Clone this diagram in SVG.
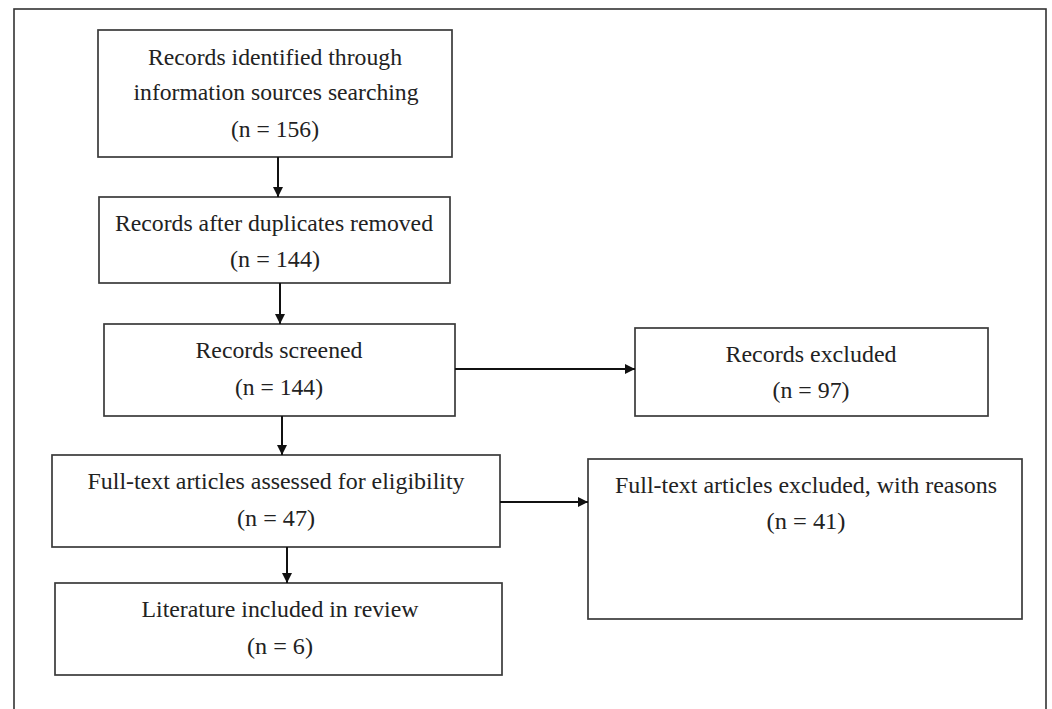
<svg xmlns="http://www.w3.org/2000/svg" width="1052" height="709" viewBox="0 0 1052 709">
<style>
.box{fill:#fff;stroke:#3a3a3a;stroke-width:1.7}
.t{font-family:"Liberation Serif","Times New Roman",serif;font-size:23px;fill:#222;text-anchor:middle}
.c{fill:none;stroke:#111;stroke-width:2}
</style>
<defs>
<marker id="ah" viewBox="0 0 10 10" refX="10" refY="5" markerWidth="11" markerHeight="10" markerUnits="userSpaceOnUse" orient="auto">
<path d="M0,0 L10,5 L0,10 z" fill="#111"/>
</marker>
</defs>
<rect x="0" y="0" width="1052" height="709" fill="#fff"/>
<rect id="frame" x="14" y="9" width="1032" height="720" fill="none" stroke="#333" stroke-width="1.6"/>
<g id="n1">
<rect class="box" x="98" y="30" width="354" height="127"/>
<text class="t" x="275" y="65" textLength="254" lengthAdjust="spacingAndGlyphs">Records identified through</text>
<text class="t" x="276" y="100" textLength="285" lengthAdjust="spacingAndGlyphs">information sources searching</text>
<text class="t" x="275" y="137" textLength="88" lengthAdjust="spacingAndGlyphs">(n = 156)</text>
</g>
<g id="n2">
<rect class="box" x="99" y="197" width="351" height="86"/>
<text class="t" x="274" y="231" textLength="318" lengthAdjust="spacingAndGlyphs">Records after duplicates removed</text>
<text class="t" x="275" y="267" textLength="90" lengthAdjust="spacingAndGlyphs">(n = 144)</text>
</g>
<g id="n3">
<rect class="box" x="104" y="324" width="351" height="92"/>
<text class="t" x="279" y="358" textLength="167" lengthAdjust="spacingAndGlyphs">Records screened</text>
<text class="t" x="279" y="395" textLength="88" lengthAdjust="spacingAndGlyphs">(n = 144)</text>
</g>
<g id="n4">
<rect class="box" x="635" y="328" width="353" height="88"/>
<text class="t" x="811" y="362" textLength="171" lengthAdjust="spacingAndGlyphs">Records excluded</text>
<text class="t" x="811" y="398" textLength="77" lengthAdjust="spacingAndGlyphs">(n = 97)</text>
</g>
<g id="n5">
<rect class="box" x="52" y="455" width="448" height="92"/>
<text class="t" x="276" y="489" textLength="377" lengthAdjust="spacingAndGlyphs">Full-text articles assessed for eligibility</text>
<text class="t" x="276" y="526" textLength="78" lengthAdjust="spacingAndGlyphs">(n = 47)</text>
</g>
<g id="n6">
<rect class="box" x="588" y="459" width="434" height="160"/>
<text class="t" x="806" y="493" textLength="382" lengthAdjust="spacingAndGlyphs">Full-text articles excluded, with reasons</text>
<text class="t" x="806" y="529" textLength="79" lengthAdjust="spacingAndGlyphs">(n = 41)</text>
</g>
<g id="n7">
<rect class="box" x="55" y="583" width="447" height="92"/>
<text class="t" x="280" y="617" textLength="277" lengthAdjust="spacingAndGlyphs">Literature included in review</text>
<text class="t" x="280" y="654" textLength="66" lengthAdjust="spacingAndGlyphs">(n = 6)</text>
</g>
<g id="connectors">
<line class="c" x1="278" y1="157" x2="278" y2="197" marker-end="url(#ah)"/>
<line class="c" x1="280" y1="283" x2="280" y2="324" marker-end="url(#ah)"/>
<line class="c" x1="455" y1="369" x2="635" y2="369" marker-end="url(#ah)"/>
<line class="c" x1="282" y1="416" x2="282" y2="455" marker-end="url(#ah)"/>
<line class="c" x1="500" y1="502" x2="588" y2="502" marker-end="url(#ah)"/>
<line class="c" x1="287" y1="547" x2="287" y2="583" marker-end="url(#ah)"/>
</g>
</svg>
